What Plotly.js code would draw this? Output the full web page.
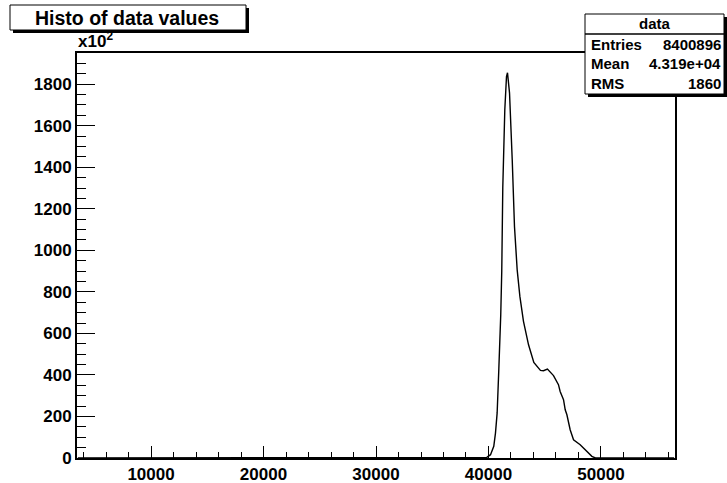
<!DOCTYPE html>
<html>
<head>
<meta charset="utf-8">
<script src="https://cdn.plot.ly/plotly-3.0.1.min.js"></script>
<style>html,body{margin:0;padding:0;background:#fff;}#plot{width:727px;height:483px;}</style>
</head>
<body>
<div id="plot"></div>
<script>
// ---- data (counts in units of 10^2) ----
const binX = [3500, 39600, 39850, 40180, 40470, 40620, 40770, 40920, 41000, 41090, 41180, 41270, 41450, 41600, 41690, 41870, 42110, 42310, 42550, 42790, 43110, 43560, 44030, 44470, 44620, 44890, 45240, 45780, 46220, 46370, 46670, 46820, 46970, 47260, 47560, 48150, 48600, 49190, 49500, 56500];
const binCounts = [0, 0, 3, 16, 56, 120, 217, 430, 530, 690, 900, 1300, 1676, 1836, 1855, 1757, 1436, 1115, 906, 778, 658, 545, 460, 428, 422, 420, 428, 397, 353, 320, 281, 232, 208, 136, 88, 64, 40, 8, 0, 0];
const xTickVals = [10000, 20000, 30000, 40000, 50000];
const yTickVals = [0, 200, 400, 600, 800, 1000, 1200, 1400, 1600, 1800];
const histTitle = "Histo of data values";
const statsName = "data";
const statsLabels = ["Entries", "Mean", "RMS"];
const statsValues = ["8400896", "4.319e+04", "1860"];

// ---- layout geometry (pixels) ----
const W = 727, H = 483;
const L = 77, R = 675, T = 53, B = 458;
const px = x => (x - L) / (R - L);
const py = y => (B - y) / (B - T);
const FONT = "Liberation Sans, Arial, Helvetica, sans-serif";

const trace = {
  x: binX, y: binCounts, type: "scatter", mode: "lines",
  line: {color: "#000", width: 1.4}, hoverinfo: "skip"
};

const shapes = [];
const annotations = [];
function rect(x0, y0, x1, y1, fill, lw) {
  shapes.push({type: "rect", xref: "paper", yref: "paper",
    x0: px(x0), x1: px(x1), y0: py(y1), y1: py(y0),
    fillcolor: fill, line: {color: "#000", width: lw}, layer: "above"});
}
function text(t, x, y, anchor, size) {
  annotations.push({text: t, xref: "paper", yref: "paper", x: px(x), y: py(y),
    xanchor: anchor, yanchor: "middle", showarrow: false,
    font: {family: FONT, size: size, color: "#000", weight: "bold"}});
}

// title box with shadow
rect(13, 8, 249, 33, "#000", 0);
rect(10, 5, 246, 30, "#fff", 1);
text(histTitle, 127, 18, "center", 19.5);

// stats box with shadow
const sb = {x0: 585, y0: 14, x1: 724, y1: 94};
rect(sb.x0 + 3, sb.y0 + 3, sb.x1 + 3, sb.y1 + 3, "#000", 0);
rect(sb.x0, sb.y0, sb.x1, sb.y1, "#fff", 1);
shapes.push({type: "line", xref: "paper", yref: "paper", x0: px(sb.x0), x1: px(sb.x1), y0: py(34), y1: py(34), line: {color: "#000", width: 1.5}, layer: "above"});
text(statsName, 655, 23.5, "center", 15);
const rowY = [44, 64, 83.5];
statsLabels.forEach((lab, i) => {
  text(lab, 589, rowY[i], "left", 15);
  text(statsValues[i], 723, rowY[i], "right", 15);
});

// exponent label
annotations.push({text: "x10<sup>2</sup>", xref: "paper", yref: "paper", x: px(76), y: py(53),
  xanchor: "left", yanchor: "bottom", showarrow: false,
  font: {family: FONT, size: 17, color: "#000", weight: "bold"}});

const layout = {
  width: W, height: H,
  margin: {l: L, r: W - R, t: T, b: H - B, pad: 0},
  paper_bgcolor: "#fff", plot_bgcolor: "#fff",
  showlegend: false,
  xaxis: {
    range: [3420, 56580], tickvals: xTickVals, ticktext: xTickVals.map(String),
    ticks: "inside", ticklen: 12, tickwidth: 1, tickcolor: "#000",
    minor: {ticks: "inside", ticklen: 6, tickwidth: 1, tickcolor: "#000", dtick: 2000, tick0: 0, showgrid: false},
    showline: true, linecolor: "#000", linewidth: 2, mirror: true,
    showgrid: false, zeroline: false,
    tickfont: {family: FONT, size: 17, color: "#000", weight: "bold"}
  },
  yaxis: {
    range: [0, 1950], tickvals: yTickVals, ticktext: yTickVals.map(String),
    ticks: "inside", ticklen: 18, tickwidth: 1, tickcolor: "#000",
    minor: {ticks: "inside", ticklen: 9, tickwidth: 1, tickcolor: "#000", dtick: 50, tick0: 0, showgrid: false},
    showline: true, linecolor: "#000", linewidth: 2, mirror: true,
    showgrid: false, zeroline: false,
    tickfont: {family: FONT, size: 17, color: "#000", weight: "bold"}
  },
  shapes: shapes, annotations: annotations
};

Plotly.newPlot("plot", [trace], layout, {staticPlot: true, displayModeBar: false});
</script>
</body>
</html>
